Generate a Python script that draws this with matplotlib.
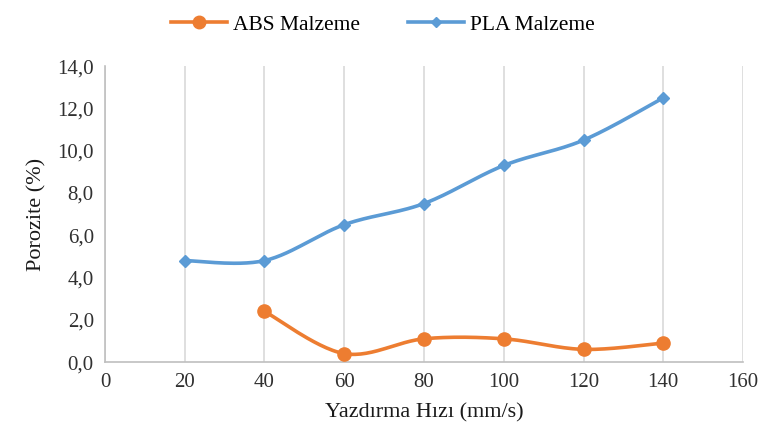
import numpy as np
import matplotlib
matplotlib.use('Agg')
from matplotlib import pyplot as plt
from matplotlib.ticker import FuncFormatter

speeds_pla = [20, 40, 60, 80, 100, 120, 140]
pla = [4.8, 4.8, 6.5, 7.5, 9.3, 10.5, 12.5]
speeds_abs = [40, 60, 80, 100, 120, 140]
abs_vals = [2.4, 0.4, 1.1, 1.1, 0.6, 0.9]

plt.rcParams['font.family'] = ['Liberation Serif', 'DejaVu Serif']


def smooth(xs, ys, n=30):
    # Excel-like smoothing: cubic Bezier segments with Catmull-Rom control points
    x = np.array(xs, float)
    y = np.array(ys, float)
    px = np.concatenate([[x[0]], x, [x[-1]]])
    py = np.concatenate([[y[0]], y, [y[-1]]])
    out_x, out_y = [], []
    t = np.linspace(0, 1, n)
    for i in range(1, len(px) - 2):
        p0 = np.array([px[i], py[i]])
        p3 = np.array([px[i + 1], py[i + 1]])
        c1 = p0 + (np.array([px[i + 1], py[i + 1]]) - np.array([px[i - 1], py[i - 1]])) / 6
        c2 = p3 - (np.array([px[i + 2], py[i + 2]]) - np.array([px[i], py[i]])) / 6
        b = (np.outer((1 - t) ** 3, p0) + np.outer(3 * (1 - t) ** 2 * t, c1)
             + np.outer(3 * (1 - t) * t ** 2, c2) + np.outer(t ** 3, p3))
        out_x.extend(b[:, 0])
        out_y.extend(b[:, 1])
    return out_x, out_y


fig = plt.figure(figsize=(7.66, 4.41), dpi=100)
ax = fig.add_axes([0.137, 0.179, 0.833, 0.671])

c_abs = '#ED7D31'
c_pla = '#5B9BD5'

sx, sy = smooth(speeds_abs, abs_vals)
ax.plot(sx, sy, color=c_abs, lw=2.6, zorder=3)
ax.plot(speeds_abs, abs_vals, 'o', color=c_abs, ms=9.5, zorder=4)
sx, sy = smooth(speeds_pla, pla)
ax.plot(sx, sy, color=c_pla, lw=2.6, zorder=3)
ax.plot(speeds_pla, pla, 'D', color=c_pla, ms=6, zorder=4)

# legend handles
ax.plot([], [], '-o', color=c_abs, lw=2.6, ms=9, label='ABS Malzeme')
ax.plot([], [], '-D', color=c_pla, lw=2.6, ms=5, label='PLA Malzeme')
h, l = ax.get_legend_handles_labels()
fig.legend(h, l, loc='upper center', bbox_to_anchor=(0.5, 1.01), ncol=2,
           frameon=False, fontsize=15.5, handlelength=2.6, columnspacing=2.2,
           handletextpad=0.3)

ax.set_xlim(0, 160)
ax.set_ylim(0, 14)
ax.set_xticks(range(0, 161, 20))
ax.set_yticks(np.arange(0, 14.1, 2))
ax.yaxis.set_major_formatter(FuncFormatter(lambda v, p: f"{v:.1f}".replace('.', ',')))
ax.grid(axis='x', color='#d9d9d9', lw=1.2)
ax.set_axisbelow(True)
for s in ['top', 'right']:
    ax.spines[s].set_visible(False)
for s in ['left', 'bottom']:
    ax.spines[s].set_color('#bfbfbf')
    ax.spines[s].set_linewidth(1.2)
ax.tick_params(length=0, labelsize=15, colors='#303030', pad=8)
ax.set_xlabel('Yazdırma Hızı (mm/s)', fontsize=16, color='#1a1a1a', labelpad=8)
ax.set_ylabel('Porozite (%)', fontsize=16, color='#1a1a1a', labelpad=8)

fig.savefig('out.png', dpi=100)
